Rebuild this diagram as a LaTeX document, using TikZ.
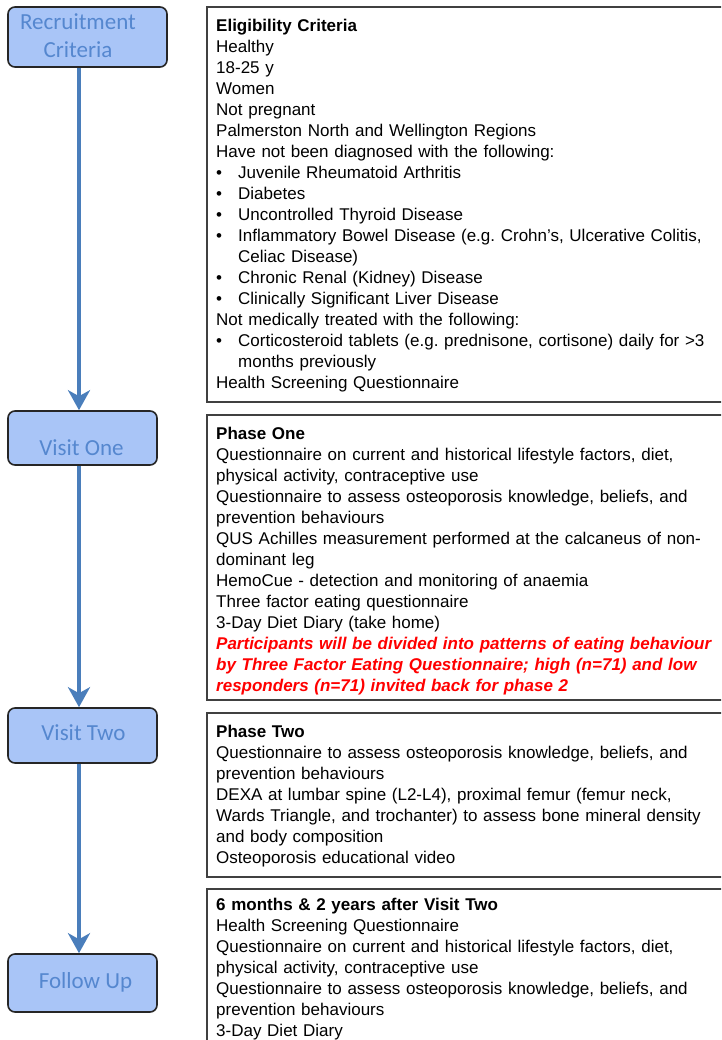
\documentclass[tikz,border=0pt]{standalone}
\usepackage{fontspec}
\setmainfont{Liberation Sans}
\newfontfamily\stagefont{Carlito}
\usepackage{tikz}
\usetikzlibrary{arrows.meta,positioning,calc}
\frenchspacing

\definecolor{stagefill}{HTML}{A9C5F7}
\definecolor{stageink}{HTML}{5587CF}
\definecolor{flowblue}{HTML}{4A7EBB}
\definecolor{notered}{HTML}{FF0000}

\newcommand{\itm}[1]{\makebox[22pt][l]{\textbullet}#1}
\newcommand{\cont}[1]{\hspace*{22pt}#1}

\begin{document}
\begin{tikzpicture}[x=1pt, y=-1pt,
    stage/.style={draw=black!85, line width=1.6pt, rounded corners=7pt, fill=stagefill},
    stagetext/.style={text=stageink, align=center, inner sep=0pt,
        font=\stagefont\fontsize{23}{28}\selectfont},
    infobox/.style={draw=black!75, line width=1.8pt, anchor=north west, minimum width=540pt},
    infotext/.style={anchor=base west, inner sep=0pt, align=left, text width=640pt,
        font=\fontsize{17}{21}\selectfont},
    flow/.style={draw=flowblue, line width=4pt, -{Stealth[length=20pt, width=22pt, inset=6pt]}}]
    \useasboundingbox (0,0) rectangle (721,1040);
    \clip (0,0) rectangle (721,1040);
    \fill[white] (0,0) rectangle (721,1040);

    % Stages
    \node[stage, minimum width=159pt, minimum height=60pt] (rec) at (87.5,37) {};
    \node[stage, minimum width=149pt, minimum height=54pt] (v1) at (82.5,438) {};
    \node[stage, minimum width=149pt, minimum height=55pt] (v2) at (82.5,735.5) {};
    \node[stage, minimum width=149pt, minimum height=58pt] (fu) at (82.5,983) {};

    \node[stagetext] (rec txt) at (78,36) {Recruitment\\Criteria};
    \node[stagetext] (v1 txt) at (81.5,448) {Visit One};
    \node[stagetext] (v2 txt) at (83.5,733) {Visit Two};
    \node[stagetext] (fu txt) at (85.5,982) {Follow Up};

    % Flow between stages
    \coordinate (spine) at (79,0);
    \draw[flow] (rec.south -| spine) -- (v1.north -| spine);
    \draw[flow] (v1.south -| spine) -- (v2.north -| spine);
    \draw[flow] (v2.south -| spine) -- (fu.north -| spine);

    % Detail boxes
    \node[infobox, minimum height=395pt] (elig) at (206,6) {};
    \node[infobox, minimum height=285pt] (phone) at (206,414) {};
    \node[infobox, minimum height=164pt] (ptwo) at (206,712) {};
    \node[infobox, minimum height=200pt] (follow) at (206,888) {};

    \node[infotext] (elig txt) at (216,32) {\textbf{Eligibility Criteria}\\
        Healthy\\
        18-25 y\\
        Women\\
        Not pregnant\\
        Palmerston North and Wellington Regions\\
        Have not been diagnosed with the following:\\
        \itm{Juvenile Rheumatoid Arthritis}\\
        \itm{Diabetes}\\
        \itm{Uncontrolled Thyroid Disease}\\
        \itm{Inflammatory Bowel Disease (e.g. Crohn’s, Ulcerative Colitis,}\\
        \cont{Celiac Disease)}\\
        \itm{Chronic Renal (Kidney) Disease}\\
        \itm{Clinically Significant Liver Disease}\\
        Not medically treated with the following:\\
        \itm{Corticosteroid tablets (e.g. prednisone, cortisone) daily for >3}\\
        \cont{months previously}\\
        Health Screening Questionnaire};

    \node[infotext] (phone txt) at (216,439) {\textbf{Phase One}\\
        Questionnaire on current and historical lifestyle factors, diet,\\
        physical activity, contraceptive use\\
        Questionnaire to assess osteoporosis knowledge, beliefs, and\\
        prevention behaviours\\
        QUS Achilles measurement performed at the calcaneus of non-\\
        dominant leg\\
        HemoCue - detection and monitoring of anaemia\\
        Three factor eating questionnaire\\
        3-Day Diet Diary (take home)\\
        {\color{notered}\bfseries\itshape Participants will be divided into patterns of eating behaviour}\\
        {\color{notered}\bfseries\itshape by Three Factor Eating Questionnaire; high (n=71) and low}\\
        {\color{notered}\bfseries\itshape responders (n=71) invited back for phase 2}};

    \node[infotext] (ptwo txt) at (216,737) {\textbf{Phase Two}\\
        Questionnaire to assess osteoporosis knowledge, beliefs, and\\
        prevention behaviours\\
        DEXA at lumbar spine (L2-L4), proximal femur (femur neck,\\
        Wards Triangle, and trochanter) to assess bone mineral density\\
        and body composition\\
        Osteoporosis educational video};

    \node[infotext] (follow txt) at (216,910) {\textbf{6 months \& 2 years after Visit Two}\\
        Health Screening Questionnaire\\
        Questionnaire on current and historical lifestyle factors, diet,\\
        physical activity, contraceptive use\\
        Questionnaire to assess osteoporosis knowledge, beliefs, and\\
        prevention behaviours\\
        3-Day Diet Diary};
\end{tikzpicture}
\end{document}
